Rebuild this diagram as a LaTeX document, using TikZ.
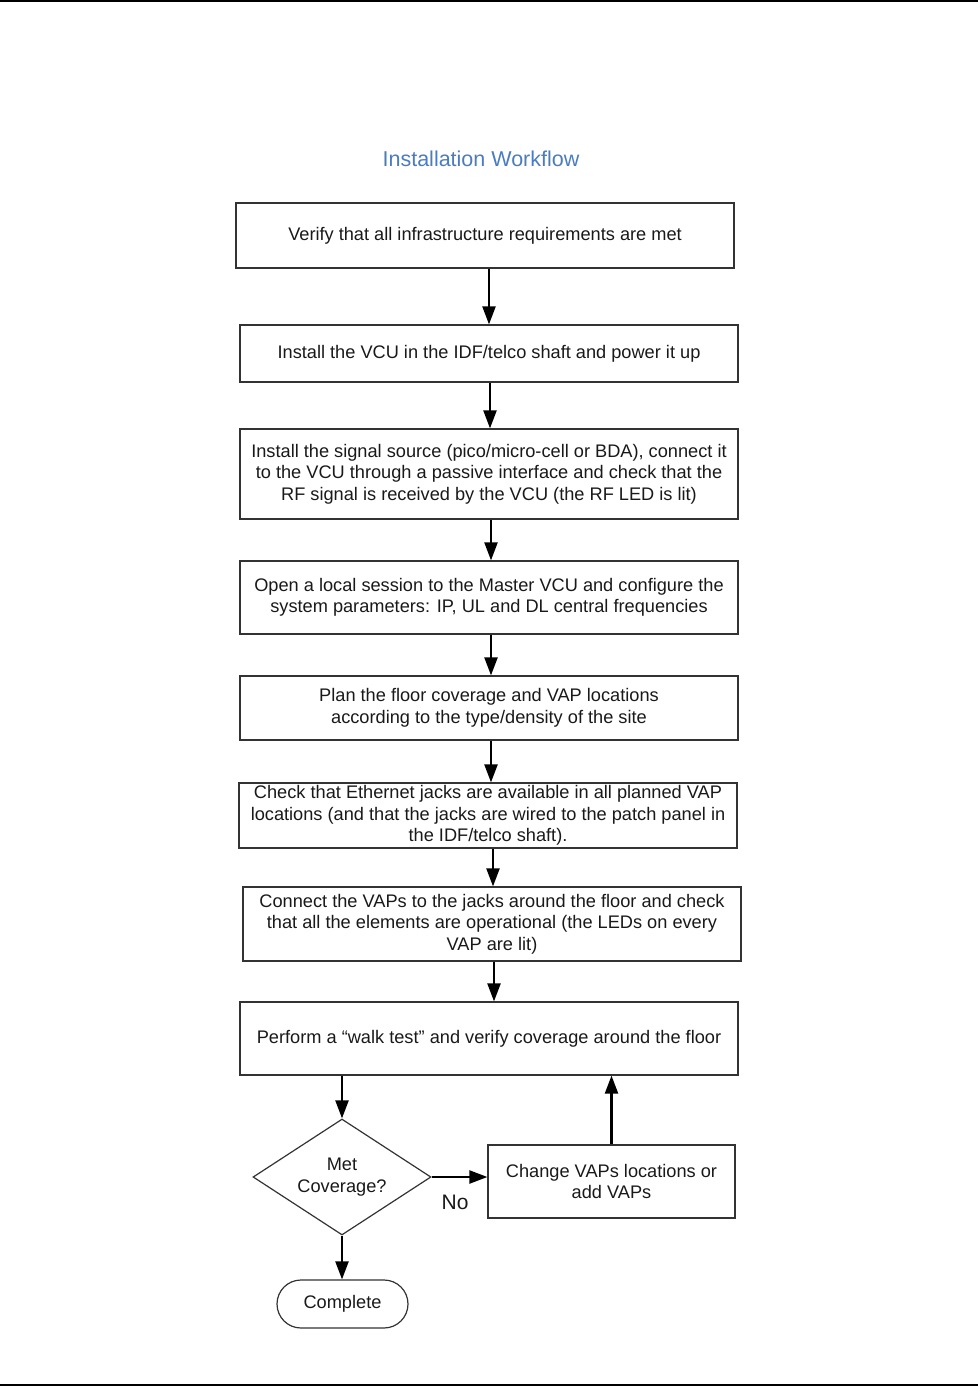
\documentclass[tikz,border=0pt]{standalone}
\usepackage{fontspec}
\setmainfont{Liberation Sans}
\usetikzlibrary{shapes.geometric,arrows.meta}
\definecolor{titleblue}{RGB}{74,124,196}
\definecolor{txt}{RGB}{25,25,25}
\tikzset{
  stepbox/.style={draw=black!80, line width=1.2pt, rectangle, align=center, text=txt,
    font=\fontsize{18.2}{21.5}\selectfont, inner sep=0pt},
  decision/.style={draw=black!80, line width=1.2pt, diamond, aspect=1.53, align=center,
    text=txt, font=\fontsize{18.2}{22}\selectfont, inner sep=0pt,
    minimum width=178pt, minimum height=116pt},
  terminal/.style={draw=black!80, line width=1.2pt, rectangle, rounded corners=24pt,
    align=center, text=txt, font=\fontsize{18.2}{21.5}\selectfont,
    minimum width=131pt, minimum height=48pt, inner sep=0pt},
  arr/.style={line width=2.2pt, draw=black, -{Triangle[length=18pt,width=13pt]}},
  rule/.style={line width=2pt, draw=black}
}
\begin{document}
\begin{tikzpicture}[x=1pt,y=-1pt]
\useasboundingbox (0,0) rectangle (978,1386);
\coordinate (tl) at (0,1);
\coordinate (tr) at (978,1);
\coordinate (bl) at (0,1384.5);
\coordinate (br) at (978,1384.5);
\draw[rule] (tl) -- (tr);
\draw[rule] (bl) -- (br);

\node[text=titleblue, font=\fontsize{21.5}{24}\selectfont] (title) at (481,159) {Installation Workflow};

\node[stepbox, minimum width=498pt, minimum height=65pt] (s1) at (485,235.5)
  {\raisebox{-1pt}{Verify that all infrastructure requirements are met}};
\node[stepbox, minimum width=498pt, minimum height=57pt] (s2) at (489,353.5)
  {\raisebox{-1pt}{Install the VCU in the IDF/telco shaft and power it up}};
\node[stepbox, minimum width=498pt, minimum height=90pt] (s3) at (489,474)
  {Install the signal source (pico/micro-cell or BDA), connect it\\
   to the VCU through a passive interface and check that the\\
   RF signal is received by the VCU (the RF LED is lit)};
\node[stepbox, minimum width=498pt, minimum height=73pt] (s4) at (489,597.5)
  {Open a local session to the Master VCU and configure the\\
   system parameters: IP, UL and DL central frequencies};
\node[stepbox, minimum width=498pt, minimum height=64pt] (s5) at (489,708)
  {Plan the floor coverage and VAP locations\\
   according to the type/density of the site};
\node[stepbox, minimum width=498pt, minimum height=65pt] (s6) at (488,815.5)
  {Check that Ethernet jacks are available in all planned VAP\\
   locations (and that the jacks are wired to the patch panel in\\
   the IDF/telco shaft).};
\node[stepbox, minimum width=498pt, minimum height=74pt] (s7) at (492,924)
  {Connect the VAPs to the jacks around the floor and check\\
   that all the elements are operational (the LEDs on every\\
   VAP are lit)};
\node[stepbox, minimum width=498pt, minimum height=73pt] (s8) at (489,1038.5)
  {\raisebox{-1pt}{Perform a ``walk test'' and verify coverage around the floor}};

\node[decision] (dec) at (342,1177) {Met\\Coverage?};
\node[stepbox, minimum width=247pt, minimum height=73pt] (chg) at (611.5,1181.5)
  {Change VAPs locations or\\add VAPs};
\node[terminal] (done) at (342.5,1304) {Complete};

\draw[arr] ([xshift=4pt]s1.south) -- ([xshift=4pt]s1.south |- s2.north);
\draw[arr] ([xshift=1pt]s2.south) -- ([xshift=1pt]s2.south |- s3.north);
\draw[arr] ([xshift=2pt]s3.south) -- ([xshift=2pt]s3.south |- s4.north);
\draw[arr] ([xshift=2pt]s4.south) -- ([xshift=2pt]s4.south |- s5.north);
\draw[arr] ([xshift=2pt]s5.south) -- ([xshift=2pt]s5.south |- s6.north);
\draw[arr] ([xshift=5pt]s6.south) -- ([xshift=5pt]s6.south |- s7.north);
\draw[arr] ([xshift=2pt]s7.south) -- ([xshift=2pt]s7.south |- s8.north);
\draw[arr] (s8.south -| dec.north) -- (dec.north);
\draw[arr] (dec.east) -- (dec.east -| chg.west) node[pos=0.42, below=14pt, text=txt, font=\fontsize{21}{24}\selectfont] (no) {No};
\draw[arr] (chg.north) -- (chg.north |- s8.south);
\draw[arr] (dec.south) -- (dec.south |- done.north);
\end{tikzpicture}
\end{document}
